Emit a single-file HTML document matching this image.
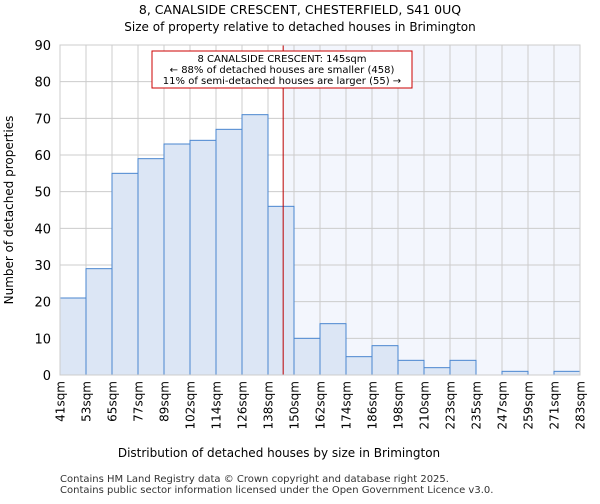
<!DOCTYPE html>
<html><head><meta charset="utf-8"><style>
body{margin:0;background:#fff;font-family:"DejaVu Sans","Liberation Sans",sans-serif}
</style></head><body>
<svg id="c" width="600" height="500" xmlns="http://www.w3.org/2000/svg" font-family="DejaVu Sans, Liberation Sans, sans-serif">
<text x="300" y="14" text-anchor="middle" font-size="12.5">8, CANALSIDE CRESCENT, CHESTERFIELD, S41 0UQ</text>
<text x="300" y="31" text-anchor="middle" font-size="12">Size of property relative to detached houses in Brimington</text>
<g id="plot"></g>
<text x="279" y="457" text-anchor="middle" font-size="12">Distribution of detached houses by size in Brimington</text>
<text transform="translate(13,210) rotate(-90)" text-anchor="middle" font-size="12">Number of detached properties</text>
<text x="60" y="482" font-size="10" fill="#333">Contains HM Land Registry data © Crown copyright and database right 2025.</text>
<text x="60" y="493" font-size="10" fill="#333">Contains public sector information licensed under the Open Government Licence v3.0.</text>
</svg>
<script>
const labels=["41sqm","53sqm","65sqm","77sqm","89sqm","102sqm","114sqm","126sqm","138sqm","150sqm","162sqm","174sqm","186sqm","198sqm","210sqm","223sqm","235sqm","247sqm","259sqm","271sqm","283sqm"];
const counts=[21,29,55,59,63,64,67,71,46,10,14,5,8,4,2,4,0,1,0,1];
const yTicks=[0,10,20,30,40,50,60,70,80,90];
const propertyIndex=8+7/12;
const X0=60,X1=580,Y0=375,Y1=45;
const bw=(X1-X0)/counts.length;
const x=i=>X0+i*bw;
const y=v=>Y0-(v/90)*(Y0-Y1);
const NS="http://www.w3.org/2000/svg";
const g=document.getElementById('plot');
function mk(t,a){const e=document.createElementNS(NS,t);for(const k in a)e.setAttribute(k,a[k]);g.appendChild(e);return e;}
const px=x(propertyIndex);
let sh=mk('rect',{x:px,y:Y1,width:X1-px,height:Y0-Y1,fill:'#f3f6fd'});


for(let i=0;i<=counts.length;i++){let l=mk('line',{x1:x(i),x2:x(i),y1:Y1,y2:Y0,stroke:'#ccc','stroke-width':1});

}
yTicks.forEach(v=>{let l=mk('line',{x1:X0,x2:X1,y1:y(v),y2:y(v),stroke:'#ccc','stroke-width':1});


let t=mk('text',{x:X0-9,y:y(v)+5,'text-anchor':'end','font-size':13});t.textContent=v;

});
counts.forEach((v,i)=>{if(v<=0)return;let r=mk('rect',{x:x(i),y:y(v),width:bw,height:Y0-y(v),fill:'#dce6f5',stroke:'#4a86cf','stroke-width':1});

});
labels.forEach((s,i)=>{let t=mk('text',{transform:`translate(${x(i)+4.5},381) rotate(-90)`,'text-anchor':'end','font-size':12});t.textContent=s;

});
let m=mk('line',{x1:px,x2:px,y1:Y1,y2:Y0,stroke:'#b00','stroke-width':1});


let b=mk('rect',{x:152,y:51,width:260,height:37,fill:'#fff',stroke:'#c00','stroke-width':1});


["8 CANALSIDE CRESCENT: 145sqm","← 88% of detached houses are smaller (458)","11% of semi-detached houses are larger (55) →"].forEach((s,i)=>{let t=mk('text',{x:282,y:62+i*11,'text-anchor':'middle','font-size':10});t.textContent=s;

});
let ax=mk('rect',{x:X0,y:Y1,width:X1-X0,height:Y0-Y1,fill:'none',stroke:'#ccc'});


</script>
</body></html>
